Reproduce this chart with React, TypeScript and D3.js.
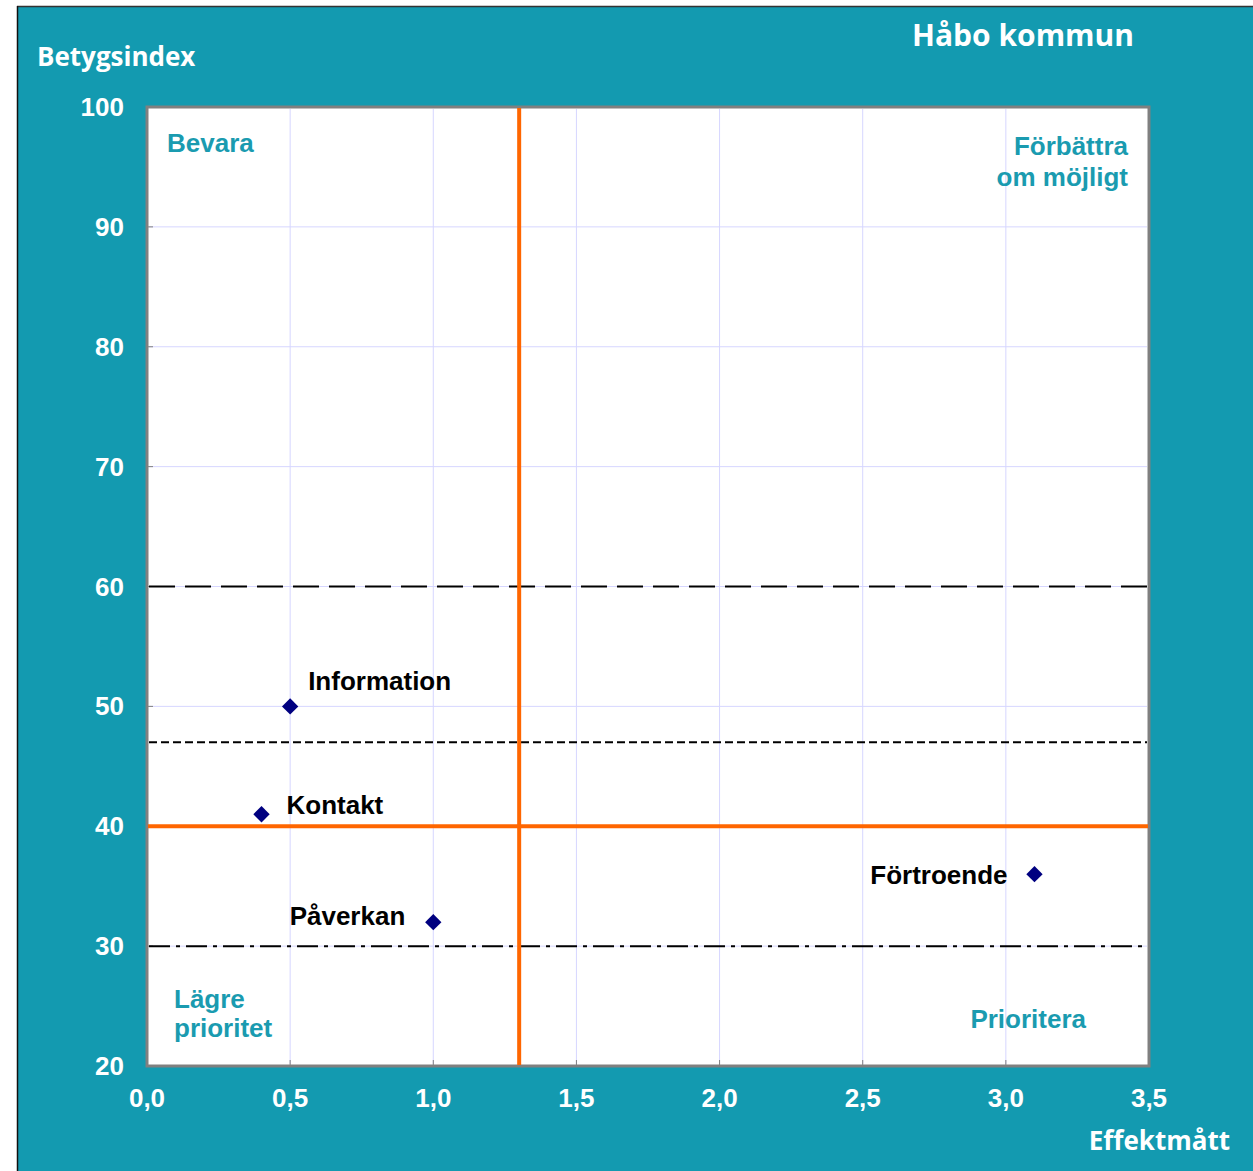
import React from "react";
import * as d3 from "d3";

const title = "Håbo kommun";
const yAxisTitle = "Betygsindex";
const xAxisTitle = "Effektmått";

const pointNames = ["Information", "Kontakt", "Påverkan", "Förtroende"];
const pointX = [0.5, 0.4, 1.0, 3.1];
const pointY = [50, 41, 32, 36];
const labelSide = ["right-up", "right", "left", "left-low"];

const xTicks = [0, 0.5, 1.0, 1.5, 2.0, 2.5, 3.0, 3.5];
const yTicks = [20, 30, 40, 50, 60, 70, 80, 90, 100];

const orangeX = 1.3;
const orangeY = 40;
const refLongDash = 60;
const refShortDash = 47;
const refDashDot = 30;

const W = 1253;
const H = 1171;
const M = { left: 147, top: 107, right: 1149, bottom: 1066 };

const TEAL = "#139AB0";
const LABEL_TEAL = "#1A9BB0";

export default function App() {
  const x = d3.scaleLinear().domain([0, 3.5]).range([M.left, M.right]);
  const y = d3.scaleLinear().domain([20, 100]).range([M.bottom, M.top]);
  const fmt = (v: number) => d3.format(".1f")(v).replace(".", ",");
  const arial = "'Liberation Sans', Arial, sans-serif";
  const cal = "'Open Sans', Lato, sans-serif";
  const diamond = d3.symbol().type(d3.symbolDiamond2).size(170);

  const labelPos = (i: number) => {
    const px = x(pointX[i]);
    const py = y(pointY[i]);
    switch (labelSide[i]) {
      case "right-up":
        return { x: px + 18, y: py - 16, anchor: "start" };
      case "right":
        return { x: px + 25, y: py + 0, anchor: "start" };
      case "left":
        return { x: px - 28, y: py + 3, anchor: "end" };
      default:
        return { x: px - 27, y: py + 10, anchor: "end" };
    }
  };

  return (
    <svg
      width={W}
      height={H}
      style={{ position: "absolute", left: 0, top: 0 }}
    >
      <rect x={0} y={0} width={W} height={H} fill="#ffffff" />
      <rect x={17} y={6} width={W - 17} height={H - 6} fill={TEAL} />
      <line x1={17} y1={6.5} x2={W} y2={6.5} stroke="#333" strokeWidth={1.5} />
      <line x1={17.5} y1={6} x2={17.5} y2={H} stroke="#111" strokeWidth={1.5} />

      <rect
        x={M.left}
        y={M.top}
        width={M.right - M.left}
        height={M.bottom - M.top}
        fill="#ffffff"
        stroke="#808080"
        strokeWidth={3}
      />

      {xTicks.slice(1, -1).map((t) => (
        <line key={"gx" + t} x1={x(t)} x2={x(t)} y1={M.top + 2} y2={M.bottom - 2} stroke="#D6D6FF" strokeWidth={1} />
      ))}
      {yTicks.slice(1, -1).map((t) => (
        <line key={"gy" + t} x1={M.left + 2} x2={M.right - 2} y1={y(t)} y2={y(t)} stroke="#D6D6FF" strokeWidth={1} />
      ))}
      {xTicks.slice(1, -1).map((t) => (
        <line key={"tx" + t} x1={x(t)} x2={x(t)} y1={M.bottom - 6} y2={M.bottom} stroke="#808080" strokeWidth={1} />
      ))}
      {yTicks.slice(1, -1).map((t) => (
        <line key={"ty" + t} x1={M.left} x2={M.left + 6} y1={y(t)} y2={y(t)} stroke="#808080" strokeWidth={1} />
      ))}

      <line x1={M.left + 2} x2={M.right - 2} y1={y(refLongDash)} y2={y(refLongDash)} stroke="#000" strokeWidth={2} strokeDasharray="26,10" />
      <line x1={M.left + 2} x2={M.right - 2} y1={y(refShortDash)} y2={y(refShortDash)} stroke="#000" strokeWidth={2} strokeDasharray="8,4" />
      <line x1={M.left + 2} x2={M.right - 2} y1={y(refDashDot)} y2={y(refDashDot)} stroke="#000" strokeWidth={2} strokeDasharray="21,6,4,6" />

      <line x1={x(orangeX)} x2={x(orangeX)} y1={M.top + 1} y2={M.bottom - 1} stroke="#FF6600" strokeWidth={4} />
      <line x1={M.left + 1} x2={M.right - 1} y1={y(orangeY)} y2={y(orangeY)} stroke="#FF6600" strokeWidth={4} />

      {pointNames.map((n, i) => (
        <path key={"p" + n} d={diamond() as string} transform={`translate(${x(pointX[i])},${y(pointY[i])})`} fill="#000080" />
      ))}
      {pointNames.map((n, i) => {
        const p = labelPos(i);
        return (
          <text key={"l" + n} x={p.x} y={p.y} textAnchor={p.anchor as any} fontFamily={arial} fontWeight="bold" fontSize={26} fill="#000">
            {n}
          </text>
        );
      })}

      <g fontFamily={arial} fontWeight="bold" fontSize={26} fill={LABEL_TEAL}>
        <text x={167} y={152}>Bevara</text>
        <text x={1128} y={155} textAnchor="end">Förbättra</text>
        <text x={1128} y={186} textAnchor="end">om möjligt</text>
        <text x={174} y={1008}>Lägre</text>
        <text x={174} y={1037}>prioritet</text>
        <text x={1086} y={1028} textAnchor="end">Prioritera</text>
      </g>

      <g fontFamily={arial} fontWeight="bold" fontSize={26} fill="#ffffff">
        {yTicks.map((t) => (
          <text key={"yl" + t} x={124} y={y(t) + 9} textAnchor="end">{t}</text>
        ))}
        {xTicks.map((t) => (
          <text key={"xl" + t} x={x(t)} y={1107} textAnchor="middle">{fmt(t)}</text>
        ))}
      </g>

      <g fontFamily={cal} fontWeight="bold" fill="#ffffff">
        <text x={37} y={66} fontSize={26}>{yAxisTitle}</text>
        <text x={1134} y={46} fontSize={30} textAnchor="end">{title}</text>
        <text x={1230} y={1150} fontSize={26} textAnchor="end">{xAxisTitle}</text>
      </g>
    </svg>
  );
}
